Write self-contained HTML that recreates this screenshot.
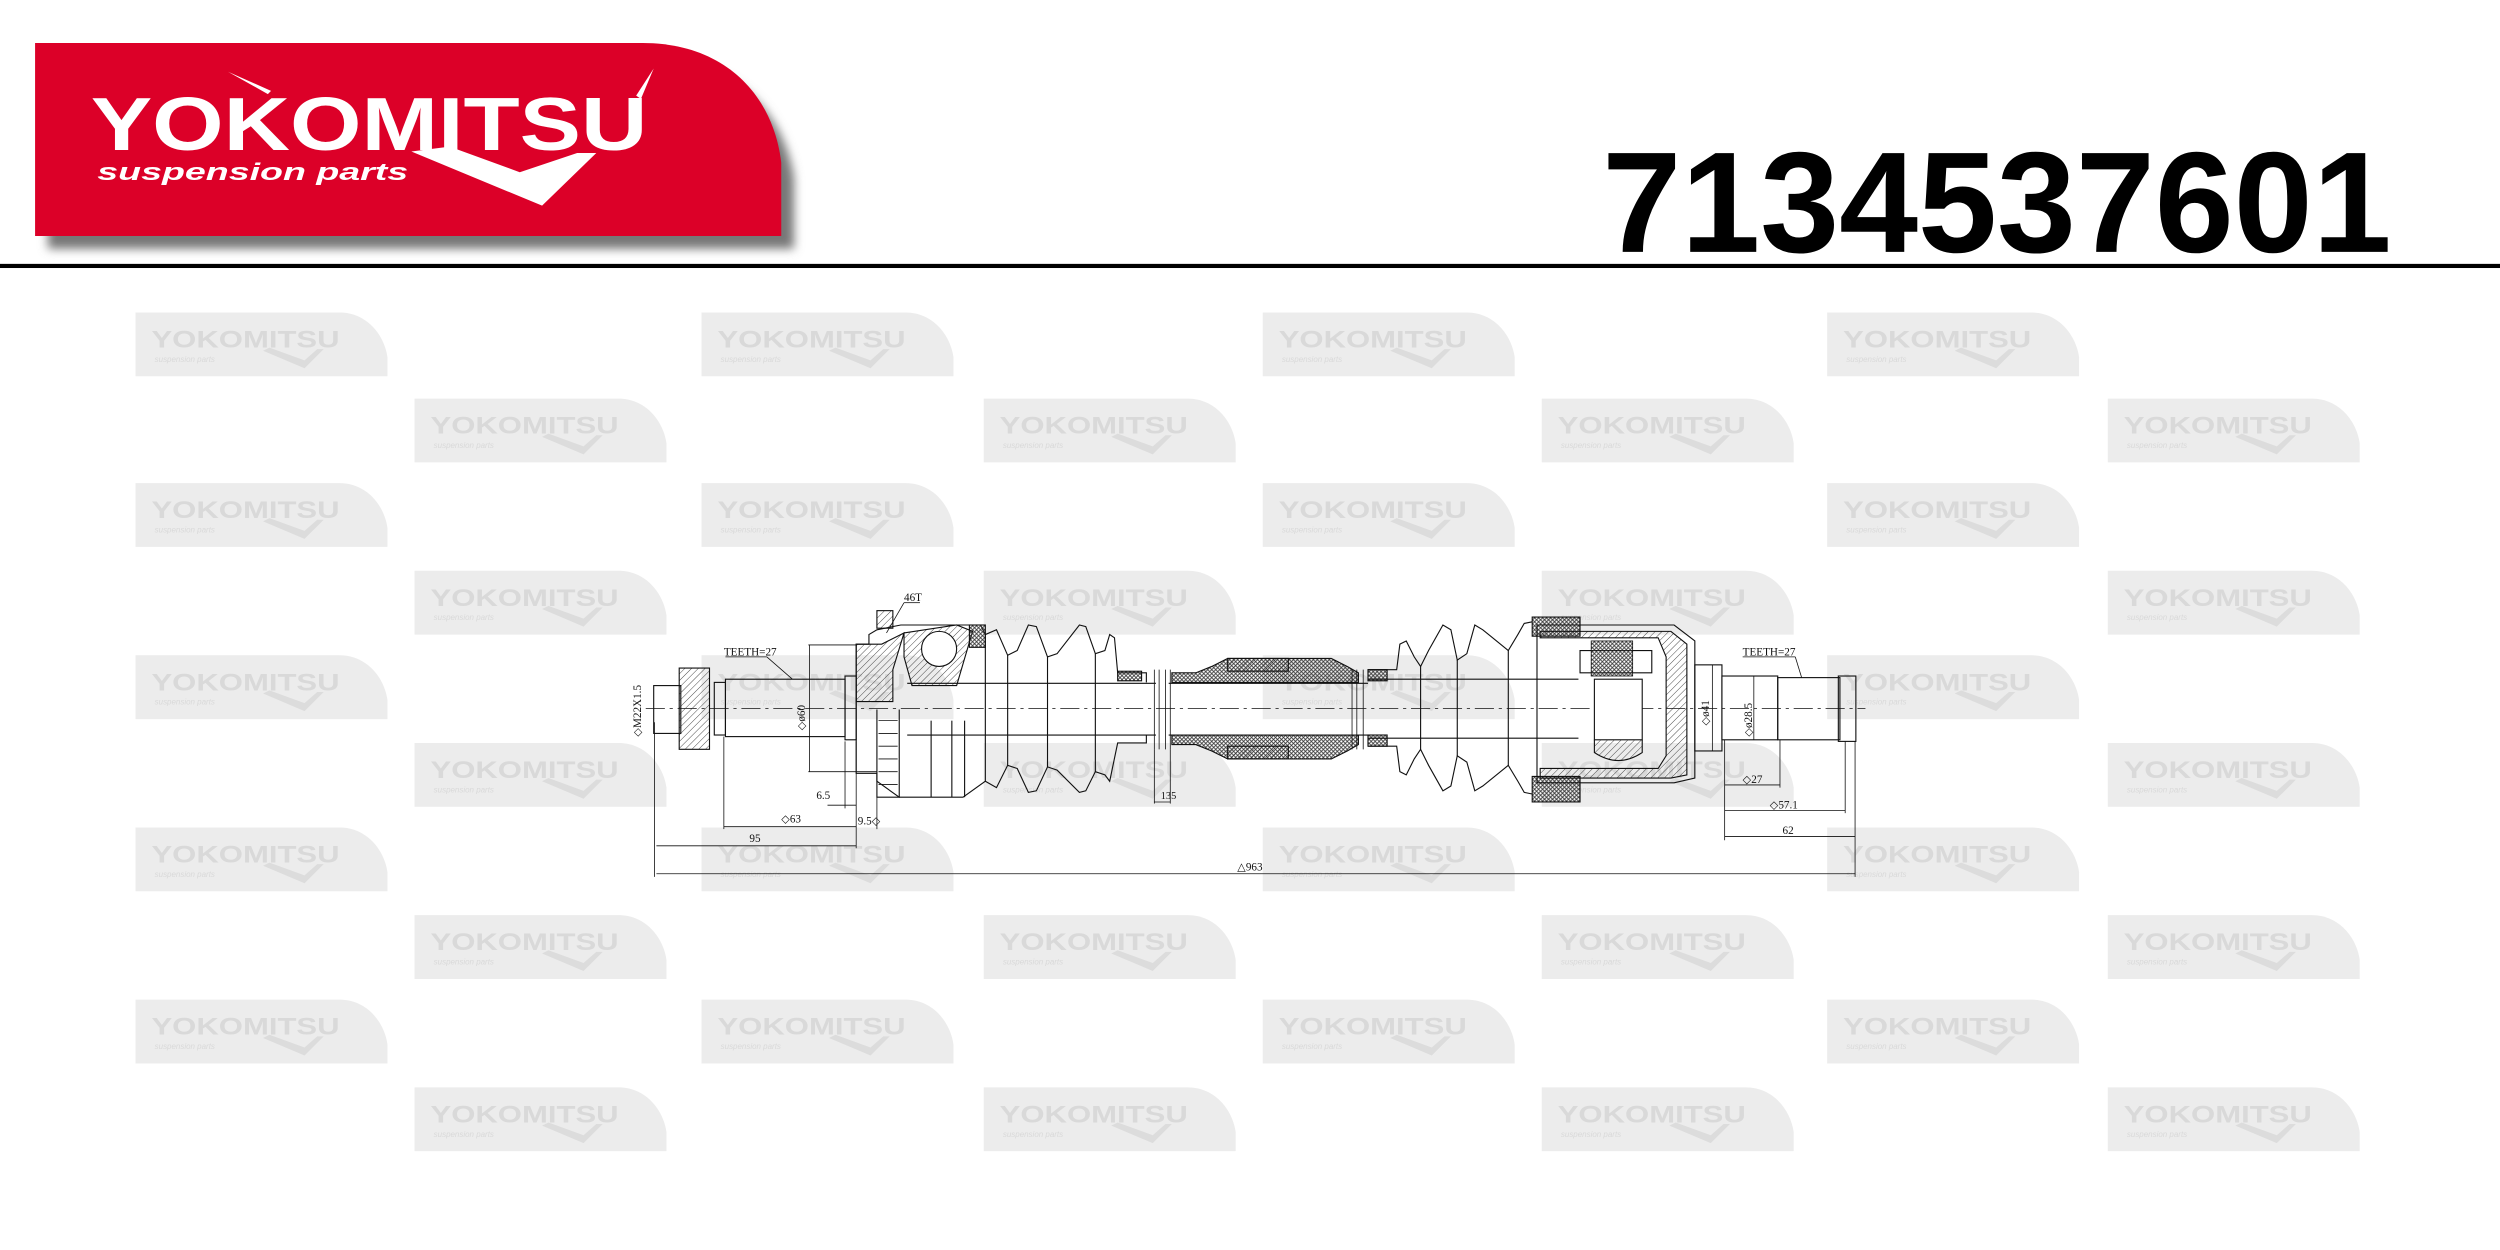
<!DOCTYPE html>
<html><head><meta charset="utf-8"><style>html,body{margin:0;padding:0;background:#fff;}svg{display:block}</style></head>
<body>
<svg width="2500" height="1250" viewBox="0 0 1568 784" preserveAspectRatio="none" xmlns="http://www.w3.org/2000/svg">
<defs>
<pattern id="h" width="3" height="3" patternUnits="userSpaceOnUse" patternTransform="rotate(45)"><line x1="0" y1="0" x2="0" y2="3" stroke="#222" stroke-width="0.5"/></pattern>
<pattern id="x" width="2.5" height="2.5" patternUnits="userSpaceOnUse"><path d="M0,0L2.5,2.5M2.5,0L0,2.5" stroke="#333" stroke-width="0.5"/></pattern>
<filter id="sh" x="-5%" y="-5%" width="115%" height="130%"><feGaussianBlur stdDeviation="3"/></filter>
<g id="wm">
<path d="M0,0 H128 C145,0 156,14 158,28 V40 H0 Z" fill="#ececec"/>
<text x="10" y="22" font-family="Liberation Sans, sans-serif" font-weight="bold" font-size="15" fill="#d9d9d9" textLength="118" lengthAdjust="spacingAndGlyphs">YOKOMITSU</text>
<text x="12" y="31" font-family="Liberation Sans, sans-serif" font-style="italic" font-size="5" fill="#d9d9d9">suspension parts</text>
<path d="M80,24 L106,35 L118,23 L114,23 L106,30 L84,22Z" fill="#dcdcdc"/>
</g>
</defs>

<!-- watermarks -->
<g>
<use href="#wm" x="85" y="196"/><use href="#wm" x="440" y="196"/><use href="#wm" x="792" y="196"/><use href="#wm" x="1146" y="196"/>
<use href="#wm" x="260" y="250"/><use href="#wm" x="617" y="250"/><use href="#wm" x="967" y="250"/><use href="#wm" x="1322" y="250"/>
<use href="#wm" x="85" y="303"/><use href="#wm" x="440" y="303"/><use href="#wm" x="792" y="303"/><use href="#wm" x="1146" y="303"/>
<use href="#wm" x="260" y="358"/><use href="#wm" x="617" y="358"/><use href="#wm" x="967" y="358"/><use href="#wm" x="1322" y="358"/>
<use href="#wm" x="85" y="411"/><use href="#wm" x="440" y="411"/><use href="#wm" x="792" y="411"/><use href="#wm" x="1146" y="411"/>
<use href="#wm" x="260" y="466"/><use href="#wm" x="617" y="466"/><use href="#wm" x="967" y="466"/><use href="#wm" x="1322" y="466"/>
<use href="#wm" x="85" y="519"/><use href="#wm" x="440" y="519"/><use href="#wm" x="792" y="519"/><use href="#wm" x="1146" y="519"/>
<use href="#wm" x="260" y="574"/><use href="#wm" x="617" y="574"/><use href="#wm" x="967" y="574"/><use href="#wm" x="1322" y="574"/>
<use href="#wm" x="85" y="627"/><use href="#wm" x="440" y="627"/><use href="#wm" x="792" y="627"/><use href="#wm" x="1146" y="627"/>
<use href="#wm" x="260" y="682"/><use href="#wm" x="617" y="682"/><use href="#wm" x="967" y="682"/><use href="#wm" x="1322" y="682"/>
</g>

<!-- header logo -->
<path d="M30,38 L410,38 C462,38 492,72 498,112 L498,156 L30,156 Z" fill="#777" filter="url(#sh)"/>
<path d="M22,27 L403,27 C455,27 485,60 490,102 L490,148 L22,148 Z" fill="#dc0028"/>
<text x="57" y="94" font-family="Liberation Sans, sans-serif" font-weight="bold" font-size="47" fill="#fff" textLength="349" lengthAdjust="spacingAndGlyphs">YOKOMITSU</text>
<text x="61" y="113" font-family="Liberation Sans, sans-serif" font-style="italic" font-weight="bold" font-size="15" fill="#fff" textLength="195" lengthAdjust="spacingAndGlyphs">suspension parts</text>
<path d="M258,95 L340,129 L374,96 L362,96 L326,108 L282,92 Z" fill="#fff"/>
<path d="M143,45 L170,57 L168,59Z M410,43 L402,62 L399,60Z" fill="#fff"/>
<text x="1005" y="158" font-family="Liberation Sans, sans-serif" font-weight="bold" font-size="90" fill="#000" textLength="495" lengthAdjust="spacingAndGlyphs">7134537601</text>
<rect x="0" y="165.5" width="1568" height="2.6" fill="#000"/>

<!-- drawing -->
<g fill="none" stroke="#111" stroke-width="0.7" font-family="Liberation Serif, serif" font-size="7">
<!-- centerline -->
<line x1="405" y1="444.3" x2="1170" y2="444.3" stroke-dasharray="12,3,2,3" stroke-width="0.5"/>
<!-- left end -->
<rect x="410" y="430" width="17" height="30"/>
<path d="M426,419 H445 V470 H426 Z" fill="url(#h)"/>
<rect x="448" y="428" width="7" height="33"/>
<rect x="455" y="426" width="75" height="36"/>
<rect x="530" y="424" width="7" height="40"/>
<!-- outer CV -->
<path d="M537,404 L545,404 L545,398 L550,395 L565,392 L600,392 L615,392 L618,398 L618,490 L604,500 L564,500 L550,490 L550,485 L537,485 Z"/>
<path d="M537,404 L553,404 L567,397 L560,420 L560,440 L550,440 L537,440 Z" fill="url(#h)"/>
<path d="M567,397 L600,392 L610,396 L600,430 L572,430 L567,412Z" fill="url(#h)"/>
<circle cx="589" cy="407" r="11" fill="#fff"/>
<rect x="550" y="383" width="10" height="11" fill="url(#h)"/>
<path d="M550,445 V500 H564 V445" /><g stroke-width="0.5">
<line x1="551" y1="452" x2="563" y2="452"/><line x1="551" y1="460" x2="563" y2="460"/><line x1="551" y1="468" x2="563" y2="468"/><line x1="551" y1="476" x2="563" y2="476"/><line x1="551" y1="484" x2="563" y2="484"/><line x1="551" y1="492" x2="563" y2="492"/></g>
<line x1="584" y1="452" x2="584" y2="500"/><line x1="597" y1="452" x2="597" y2="500"/><line x1="605" y1="452" x2="605" y2="500"/>
<rect x="608" y="392" width="10" height="14" fill="url(#x)"/>
<!-- outer boot -->
<path d="M618,398 L625,395 L632,411 L638,408 L645,392 L650,393 L657,412 L663,410 L677,392 L681,393 L687,410 L693,408 L696,398 L699,400 L701,422 L719,422 L719,428"/>
<path d="M618,490 L625,494 L632,480 L638,482 L645,497 L650,496 L657,481 L663,483 L677,497 L681,496 L687,484 L693,486 L696,490 L701,466 L719,466 L719,461"/>
<rect x="701" y="421" width="15" height="6" fill="url(#x)"/>
<line x1="632" y1="411" x2="632" y2="480"/><line x1="657" y1="412" x2="657" y2="481"/><line x1="687" y1="410" x2="687" y2="484"/>
<!-- shaft -->
<line x1="569" y1="428.6" x2="725" y2="428.6"/><line x1="569" y1="461" x2="725" y2="461"/>
<line x1="733" y1="428.6" x2="858" y2="428.6"/><line x1="733" y1="461" x2="858" y2="461"/>
<path d="M724,420 V470 M727,420 V470 M731,420 V470 M734,420 V470" stroke-width="0.5"/>
<!-- damper -->
<path d="M735,422 L750,422 L760,418 L770,413 L835,413 L845,418 L852,422 L852,428 L735,428 Z" fill="url(#x)"/>
<path d="M770,413 L808,413 L808,421 L770,421 Z" fill="url(#h)"/>
<path d="M735,467 L750,467 L760,471 L770,476 L835,476 L845,471 L852,467 L852,461 L735,461 Z" fill="url(#x)"/>
<path d="M770,476 L808,476 L808,468 L770,468 Z" fill="url(#h)"/>
<path d="M848,420 V470 M851,420 V470 M855,420 V470" stroke-width="0.5"/>
<!-- inner boot -->
<path d="M858,420 L876,420 L878,404 L882,402 L887,412 L891,418 L896,408 L905,392 L910,395 L914,414 L920,410 L925,392 L930,395 L946,408 L952,398 L956,391 L961,390"/>
<path d="M858,468 L876,468 L878,484 L882,486 L887,476 L891,470 L896,480 L905,496 L910,493 L914,474 L920,478 L925,496 L930,493 L946,480 L952,490 L956,497 L961,498"/>
<rect x="858" y="420" width="12" height="7" fill="url(#x)"/>
<rect x="858" y="461" width="12" height="7" fill="url(#x)"/>
<line x1="891" y1="418" x2="891" y2="470"/><line x1="914" y1="414" x2="914" y2="474"/><line x1="946" y1="408" x2="946" y2="480"/>
<path d="M961,387 L991,387 L991,399 L961,399 Z" fill="url(#x)"/>
<path d="M961,487 L991,487 L991,503 L961,503 Z" fill="url(#x)"/>
<line x1="858" y1="426" x2="990" y2="426"/><line x1="858" y1="463" x2="990" y2="463"/>
<!-- inner housing -->
<path d="M964,392 L1050,392 L1063,402 L1063,488 L1050,491 L964,491 Z"/>
<path d="M966,396 L1048,396 L1058,404 L1058,486 L1048,488 L966,488 L966,482 L1040,482 L1045,474 L1045,412 L1040,400 L966,400 Z" fill="url(#h)"/>
<path d="M991,408 L1036,408 L1036,422 L991,422 Z" fill="#fff"/>
<rect x="998" y="402" width="26" height="22" fill="url(#x)" stroke-width="0.5"/>
<rect x="1000" y="426" width="30" height="38" fill="#fff"/>
<path d="M1000,464 L1000,472 Q1015,482 1030,472 L1030,464" fill="url(#h)"/>
<!-- stub -->
<rect x="1063" y="417" width="17" height="54"/>
<rect x="1080" y="424" width="35" height="40"/>
<rect x="1115" y="425" width="39" height="39"/>
<rect x="1153" y="424" width="11" height="41"/>
<!-- dimensions -->
<g stroke-width="0.5">
<line x1="410.5" y1="453" x2="410.5" y2="550"/>
<line x1="454" y1="462" x2="454" y2="520"/>
<line x1="537" y1="465" x2="537" y2="532"/>
<line x1="550" y1="500" x2="550" y2="520"/>
<line x1="530" y1="465" x2="530" y2="507"/>
<line x1="519" y1="505" x2="537" y2="505"/>
<line x1="454" y1="518.5" x2="537" y2="518.5"/>
<line x1="411.7" y1="530.5" x2="537" y2="530.5"/>
<line x1="411.7" y1="548" x2="1163.5" y2="548"/>
<line x1="507.7" y1="404.5" x2="507.7" y2="484"/>
<line x1="507" y1="404.5" x2="537" y2="404.5"/><line x1="507" y1="484" x2="550" y2="484"/>
<line x1="724" y1="470" x2="724" y2="504"/><line x1="734" y1="470" x2="734" y2="504"/>
<line x1="724" y1="503" x2="734" y2="503"/>
<line x1="455" y1="412" x2="481" y2="412"/><line x1="481" y1="412" x2="497" y2="426"/>
<line x1="567" y1="378" x2="577" y2="378"/><line x1="567" y1="378" x2="556" y2="397"/>
<line x1="1074" y1="417" x2="1074" y2="471"/>
<line x1="1100" y1="424" x2="1100" y2="464"/>
<line x1="1081.7" y1="464" x2="1081.7" y2="527"/>
<line x1="1116.4" y1="464" x2="1116.4" y2="494"/>
<line x1="1157.3" y1="465" x2="1157.3" y2="510"/>
<line x1="1163.5" y1="465" x2="1163.5" y2="550"/>
<line x1="1081.7" y1="492.3" x2="1116.4" y2="492.3"/>
<line x1="1081.7" y1="508.4" x2="1157.3" y2="508.4"/>
<line x1="1081.7" y1="524.7" x2="1163.5" y2="524.7"/>
<line x1="1093" y1="412" x2="1126" y2="412"/><line x1="1126" y1="412" x2="1130" y2="425"/>
</g>
<g fill="#111" stroke="none">
<text x="454" y="411">TEETH=27</text>
<text x="567" y="377">46T</text>
<text x="512" y="501">6.5</text>
<text x="490" y="516">◇63</text>
<text x="538" y="517">9.5◇</text>
<text x="470" y="528">95</text>
<text x="728" y="501" font-size="6.5">135</text>
<text x="776" y="546">△963</text>
<text x="402" y="462" transform="rotate(-90 402 462)">◇M22X1.5</text>
<text x="505" y="458" transform="rotate(-90 505 458)">◇ø60</text>
<text x="1093" y="411">TEETH=27</text>
<text x="1072" y="455" transform="rotate(-90 1072 455)">◇ø41</text>
<text x="1099" y="462" transform="rotate(-90 1099 462)">◇ø28.5</text>
<text x="1093" y="491">◇27</text>
<text x="1110" y="507">◇57.1</text>
<text x="1118" y="523">62</text>
</g>
</g>
</svg>
</body></html>
